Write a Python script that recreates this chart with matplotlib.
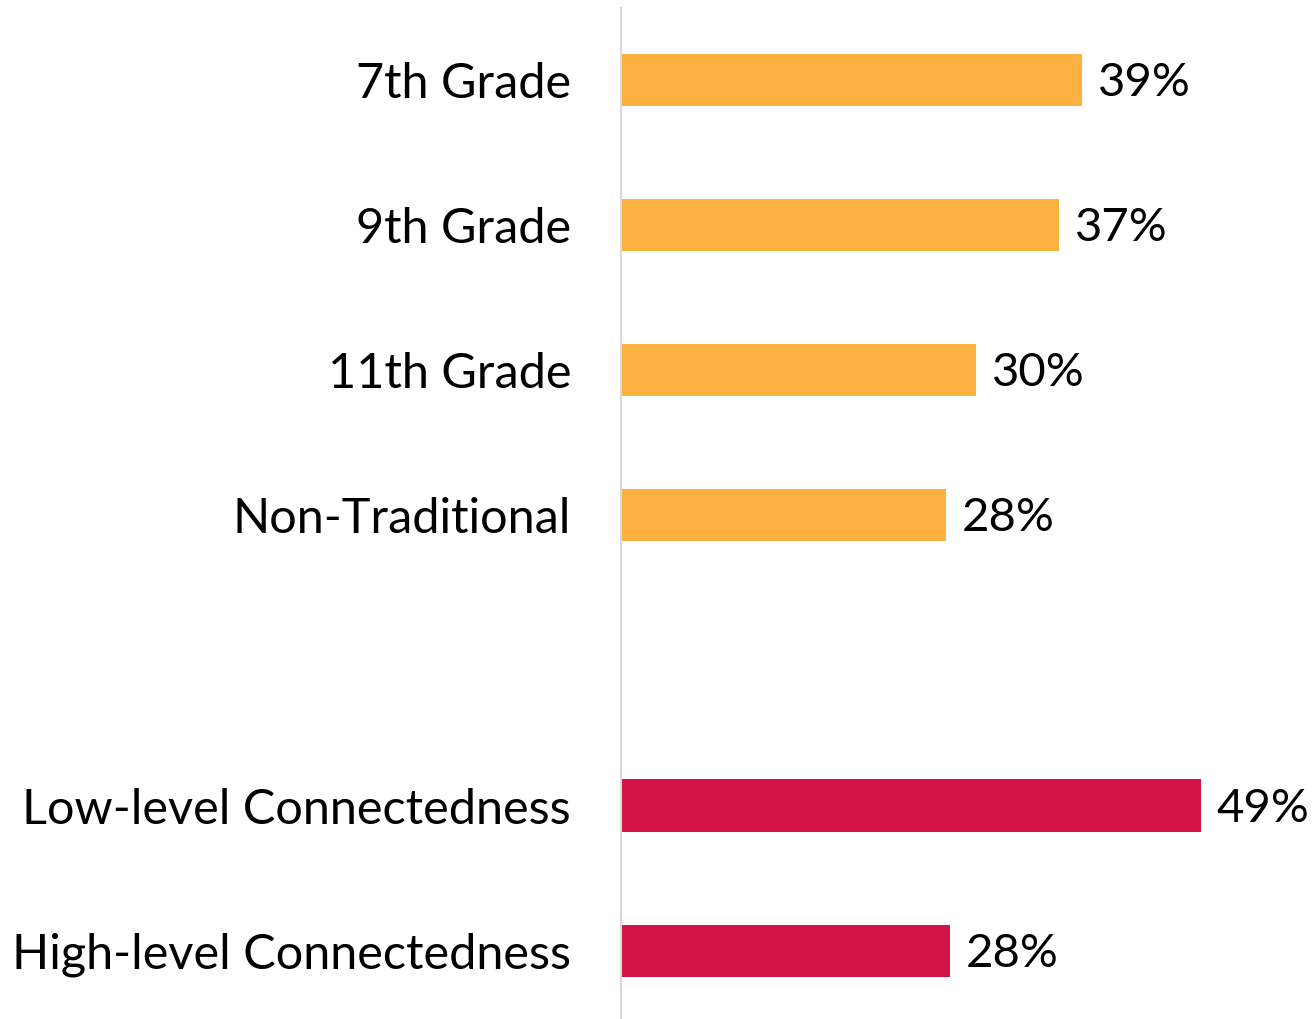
import matplotlib
matplotlib.use("Agg")
import matplotlib.pyplot as plt

categories = ["7th Grade", "9th Grade", "11th Grade", "Non-Traditional", "",
              "Low-level Connectedness", "High-level Connectedness"]
values = [39, 37, 30, 27.5, None, 49, 27.8]
labels = ["39%", "37%", "30%", "28%", "", "49%", "28%"]
groups = ["grade", "grade", "grade", "grade", None, "conn", "conn"]

colors = {"grade": "#FBB040", "conn": "#D31245"}

plt.rcParams['font.family'] = ['Lato', 'DejaVu Sans']

W, H = 1312, 1019
fig = plt.figure(figsize=(W / 100, H / 100), dpi=100)
left = 621 / W
right = 1307 / W
ax = fig.add_axes([left, 0, right - left, (H - 8) / H])

for i, (v, g) in enumerate(zip(values, groups)):
    if v is None:
        continue
    ax.barh(i, v, height=0.36, color=colors[g], zorder=2)
    ax.text(v + 1.35, i + 0.02, labels[i], va="center", ha="left",
            fontsize=34, color="black")

ax.set_xlim(0, 58)
ax.set_ylim(6.47, -0.495)
ax.set_yticks(range(len(categories)))
ax.set_yticklabels(categories, fontsize=35)
ax.tick_params(axis="y", length=0, pad=36)
ax.set_xticks([])
for s in ["top", "right", "bottom"]:
    ax.spines[s].set_visible(False)
ax.spines["left"].set_color("#D9D9D9")
ax.spines["left"].set_linewidth(1.5)

fig.savefig("out.png", dpi=100)
